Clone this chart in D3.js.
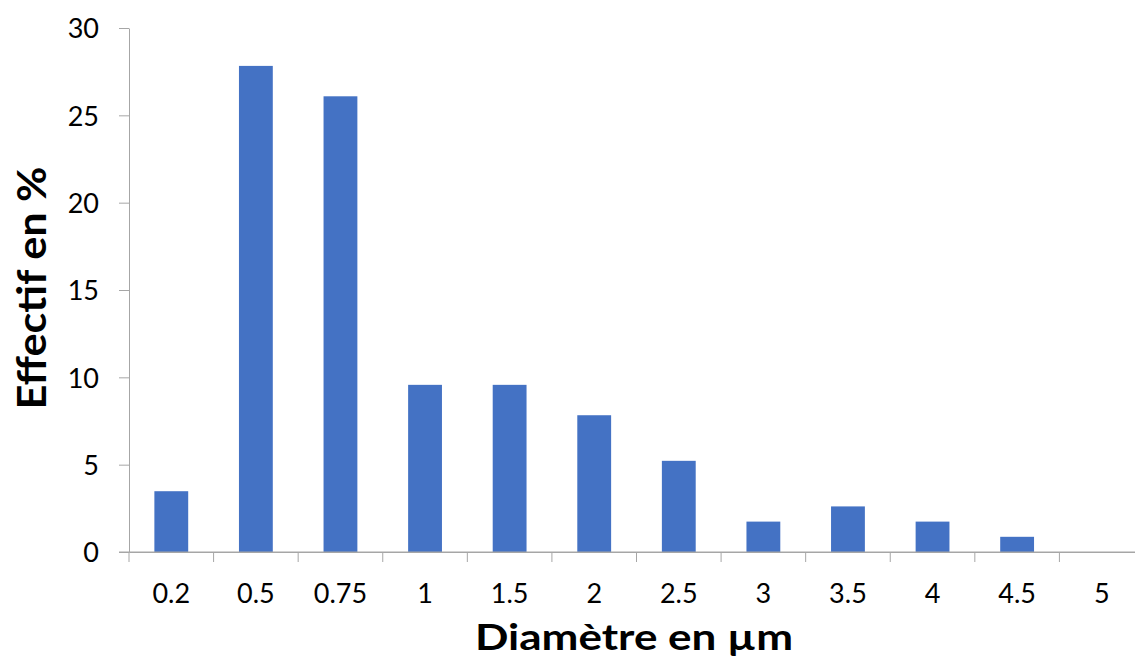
<!DOCTYPE html>
<html>
<head>
<meta charset="utf-8">
<script src="https://cdn.jsdelivr.net/npm/d3@7"></script>
<style>
  body { margin: 0; background: #fff; }
  svg { display: block; font-family: Lato, "Open Sans", sans-serif; }
  .axis path, .axis line { stroke: #a6a6a6; }
  .axis text { fill: #000; font-size: 27px; font-family: Lato, "Open Sans", sans-serif; }
</style>
</head>
<body>
<div id="container"></div>
<script>
/* DATA */
const diameters = ["0.2", "0.5", "0.75", "1", "1.5", "2", "2.5", "3", "3.5", "4", "4.5", "5"];
const effectif = [3.48, 27.83, 26.09, 9.57, 9.57, 7.83, 5.22, 1.74, 2.61, 1.74, 0.87, 0];
const yTicks = [0, 5, 10, 15, 20, 25, 30];

const width = 1135, height = 664;
const margin = {top: 28, bottom: 112, left: 129, right: -9};

const svg = d3.select("#container").append("svg")
  .attr("width", width)
  .attr("height", height);

// scales
const xScale = d3.scaleBand()
  .domain(diameters)
  .range([margin.left, width - margin.right])
  .paddingInner(0.6)
  .paddingOuter(0.3);

const yScale = d3.scaleLinear()
  .domain([0, 30])
  .range([height - margin.bottom, margin.top]);

// y axis
svg.append("g")
  .attr("class", "axis")
  .attr("transform", `translate(${margin.left},0)`)
  .call(d3.axisLeft(yScale).tickValues(yTicks).tickSize(10).tickSizeOuter(0).tickPadding(20))
  .call(g => g.selectAll("text").attr("dy", "0.36em"));

// bars
svg.selectAll("rect.bar")
  .data(diameters)
  .join("rect")
  .attr("class", "bar")
  .attr("x", d => xScale(d))
  .attr("width", xScale.bandwidth())
  .attr("y", (d, i) => yScale(effectif[i]))
  .attr("height", (d, i) => yScale(0) - yScale(effectif[i]))
  .attr("fill", "#4472c4");

// x axis: labels centred in bands, ticks on band boundaries
const xAxisGroup = svg.append("g")
  .attr("class", "axis")
  .attr("transform", `translate(0,${yScale(0)})`)
  .call(d3.axisBottom(xScale).tickSize(0).tickSizeOuter(0).tickPadding(32));

const half = (xScale.step() - xScale.bandwidth()) / 2;
const bounds = diameters.map(d => xScale(d) - half).concat([xScale(diameters[diameters.length - 1]) + xScale.bandwidth() + half]);
xAxisGroup.selectAll("line.bound")
  .data(bounds)
  .join("line")
  .attr("class", "bound")
  .attr("x1", d => d).attr("x2", d => d)
  .attr("y1", 0).attr("y2", 10);

xAxisGroup.append("line")
  .attr("x1", margin.left - 10)
  .attr("x2", width - margin.right)
  .attr("y1", 0).attr("y2", 0);

// axis titles
svg.append("text")
  .attr("x", 634)
  .attr("y", 650)
  .attr("text-anchor", "middle")
  .attr("font-size", "36px")
  .attr("font-weight", "bold")
  .attr("textLength", 318)
  .attr("lengthAdjust", "spacingAndGlyphs")
  .text("Diamètre en µm");

svg.append("text")
  .attr("transform", "translate(46,288) rotate(-90)")
  .attr("text-anchor", "middle")
  .attr("font-size", "40px")
  .attr("font-weight", "bold")
  .attr("textLength", 243)
  .attr("lengthAdjust", "spacingAndGlyphs")
  .text("Effectif en %");
</script>
</body>
</html>
